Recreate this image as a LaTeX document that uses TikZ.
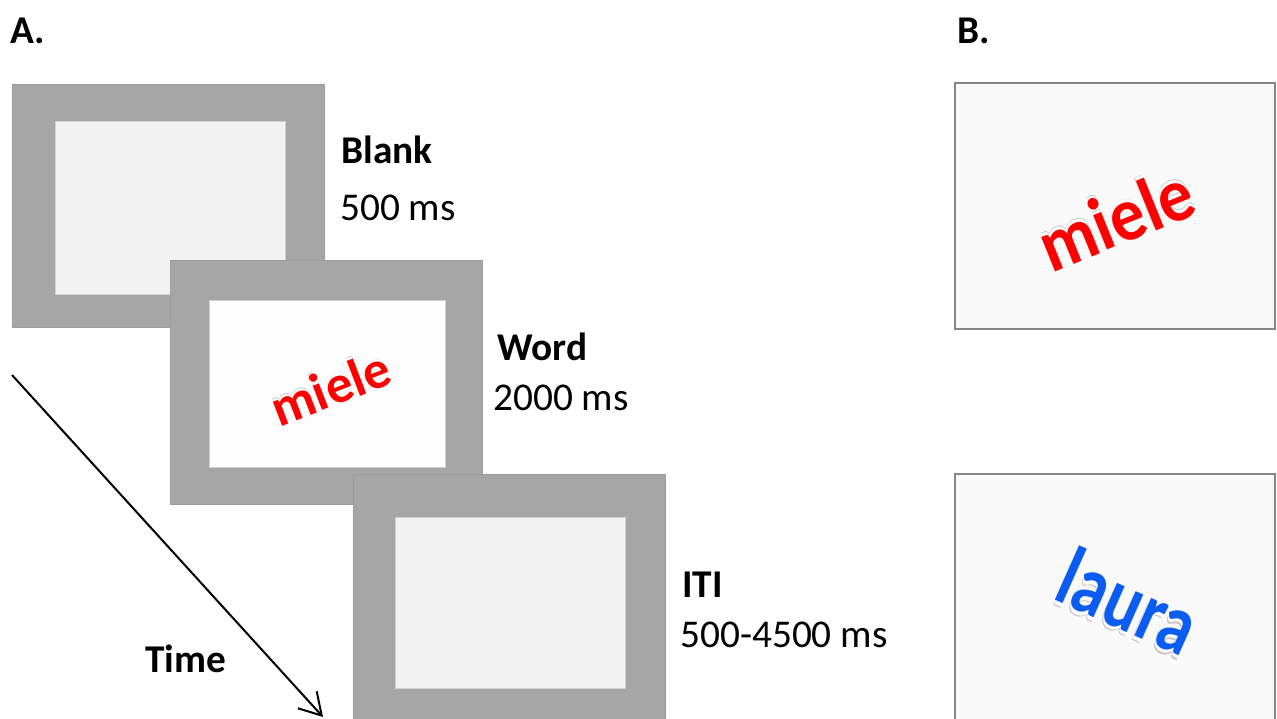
\documentclass[tikz,border=0pt]{standalone}
\usepackage{fontspec}
\setmainfont{Carlito}
\usetikzlibrary{arrows.meta,fit}
\definecolor{bezel}{HTML}{A6A6A6}
\definecolor{bezeledge}{HTML}{9C9C9C}
\definecolor{screengrey}{HTML}{F2F2F2}
\definecolor{screenwhite}{HTML}{FDFDFD}
\definecolor{panelfill}{HTML}{F9F9F9}
\definecolor{paneledge}{HTML}{868686}
\definecolor{wordred}{HTML}{FF0000}
\definecolor{wordblue}{HTML}{0B5CF0}
% word with a light bevelled echo: #1 colour, #2 echo offset, #3 word
\newcommand\wordfx[3]{%
  \makebox[0pt][l]{\raisebox{#2}{\textcolor{black!22}{#3}}}%
  \makebox[0pt][l]{\raisebox{\dimexpr #2*3/4\relax}{\textcolor{white}{#3}}}%
  \textcolor{#1}{#3}}
\tikzset{
  bezelbox/.style={inner sep=0pt, fill=bezel, draw=bezeledge, line width=0.5pt},
  screenbox/.style={inner sep=0pt, draw=black!18, line width=0.4pt},
  panelbox/.style={inner sep=0pt, fill=panelfill, draw=paneledge, line width=1.5pt},
  lbl/.style={anchor=base west, inner sep=0pt, font=\fontsize{29.5pt}{31pt}\selectfont},
  boldlbl/.style={lbl, font=\fontsize{29.5pt}{31pt}\selectfont\bfseries},
  wordart/.style={anchor=base, inner sep=0pt},
}
\begin{document}
\begin{tikzpicture}[x=0.75pt,y=-0.75pt]
\useasboundingbox (0,0) rectangle (1277,718);
\clip (0,0) rectangle (1277,718);
\fill[white] (0,0) rectangle (1277,718);

% panel labels
\node[boldlbl] (labA) at (10,43) {A.};
\node[boldlbl] (labB) at (957,43) {B.};

% first screen: blank
\node[bezelbox, fit={(12,84) (324,327)}] (s1) {};
\node[screenbox, fill=screengrey, fit={(55,121) (285,294)}] (s1in) {};

% second screen: word
\node[bezelbox, fit={(170,260) (482,504)}] (s2) {};
\node[screenbox, fill=screenwhite, fit={(209,300) (445,467)}] (s2in) {};
\node[wordart, rotate=21, font=\fontsize{40pt}{40pt}\selectfont\bfseries] (w1) at (337,405) {\wordfx{wordred}{2pt}{miele}};

% third screen: inter-trial interval
\node[bezelbox, fit={(353,474) (665,740)}] (s3) {};
\node[screenbox, fill=screengrey, fit={(395,517) (625,688)}] (s3in) {};

% timing labels
\node[boldlbl] (t1) at (341,163) {Blank};
\node[lbl] (d1) at (340,220) {500 ms};
\node[boldlbl] (t2) at (497,360) {Word};
\node[lbl] (d2) at (493,410) {2000 ms};
\node[boldlbl] (t3) at (682,597) {ITI};
\node[lbl] (d3) at (680,647) {500-4500 ms};

% time axis
\coordinate (ts) at (12,375);
\coordinate (te) at (323,717);
\draw[line width=1.5pt, -{Straight Barb[length=16pt,width=19pt,line width=1.5pt]}] (ts) -- (te);
\node[boldlbl] (tl) at (145,672) {Time};

% panel B: example stimuli
\node[panelbox, fit={(955,83) (1275,329)}] (p1) {};
\node[wordart, rotate=22, font=\fontsize{52pt}{52pt}\selectfont\bfseries] (w2) at (1126,243) {\scalebox{1}[1.1]{\wordfx{wordred}{2.5pt}{miele}}};

\node[panelbox, fit={(955,474) (1275,740)}] (p2) {};
\node[wordart, rotate=-24, font=\fontsize{51pt}{51pt}\selectfont\bfseries] (w3) at (1117,628) {\scalebox{1}[1.25]{\wordfx{wordblue}{-3pt}{laura}}};
\end{tikzpicture}
\end{document}
